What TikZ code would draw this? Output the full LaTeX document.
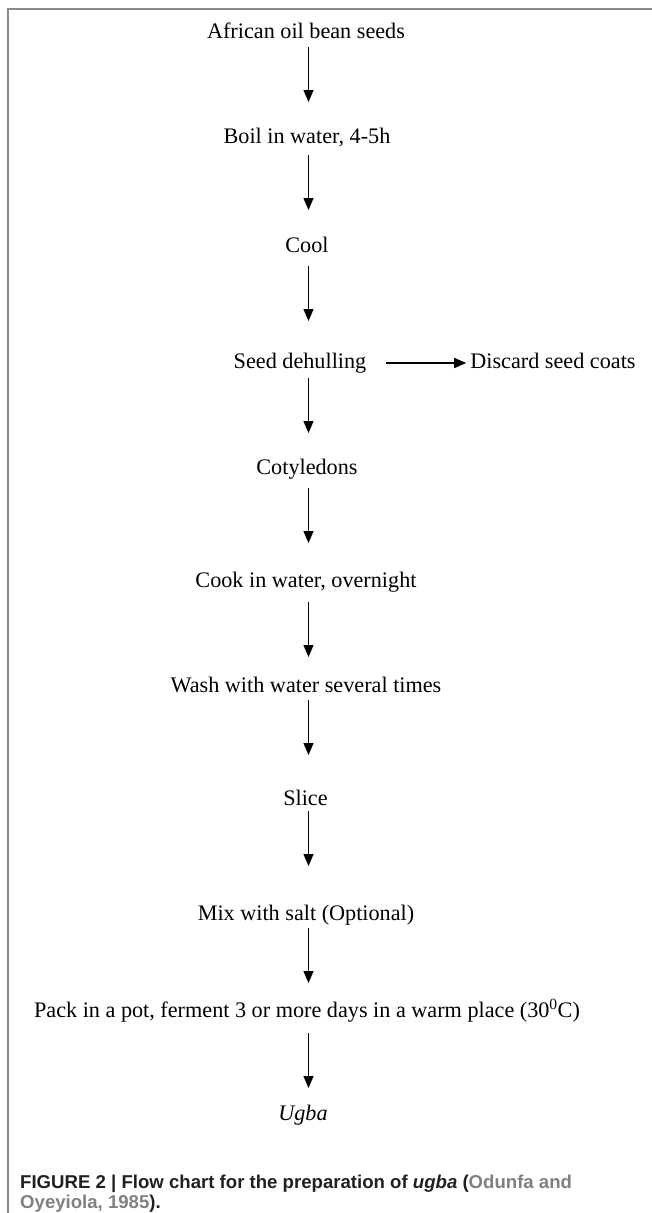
\documentclass[tikz,border=0pt]{standalone}
\usepackage{fontspec}
\setmainfont{Liberation Serif}
\newfontfamily\capfont{Liberation Sans}
\usetikzlibrary{arrows.meta,calc}
\definecolor{framegray}{RGB}{138,138,138}
\definecolor{citegray}{RGB}{128,128,128}
\definecolor{capblack}{RGB}{35,31,32}
\begin{document}
\begin{tikzpicture}[x=1pt,y=1pt,
  lbl/.style={anchor=base, inner sep=0pt, font=\fontsize{22.2}{26}\selectfont},
  captext/.style={anchor=base west, inner sep=0pt, text=capblack, font=\capfont\bfseries\fontsize{18.6}{20}\selectfont},
  arr/.style={-{Triangle[width=10pt,length=12pt]}, line width=1.3pt},
  framestyle/.style={draw=framegray, line width=2pt}]
\useasboundingbox (0,0) rectangle (652,-1213);
\draw[framestyle] (652,-9) -- (7.5,-9) -- (7.5,-1213);
\coordinate (col) at (308.5,0);
\node[lbl] (n1) at (306,-38) {African oil bean seeds};
\node[lbl] (n2) at (307,-143) {Boil in water, 4-5h};
\node[lbl] (n3) at (307,-252) {Cool};
\node[lbl] (n4) at (300,-368) {Seed dehulling};
\node[lbl] (n4b) at (553,-368) {Discard seed coats};
\node[lbl] (n5) at (307,-474) {Cotyledons};
\node[lbl] (n6) at (306,-587) {Cook in water, overnight};
\node[lbl] (n7) at (306,-692) {Wash with water several times};
\node[lbl] (n8) at (305.5,-805) {Slice};
\node[lbl] (n9) at (306,-920) {Mix with salt (Optional)};
\node[lbl] (n10) at (307,-1017) {Pack in a pot, ferment 3 or more days in a warm place (30\textsuperscript{0}C)};
\node[lbl] (n11) at (303,-1120) {\textit{Ugba}};
\foreach \a/\b/\s/\e in {n1/n2/9/41, n2/n3/12/42, n3/n4/14/47, n4/n5/10/41, n5/n6/14/44,
    n6/n7/15/35, n7/n8/8/50, n8/n9/6/54, n9/n10/8/34, n10/n11/16/32}
  \draw[arr] ($(col |- \a.base)+(0,-\s)$) -- ($(col |- \b.base)+(0,\e)$);
\draw[arr] ($(n4.base east)+(20,5)$) -- ($(n4b.base west)+(-4,5)$);
\node[captext] (c1) at (20,-1188) {FIGURE 2 | Flow chart for the preparation of \textit{ugba} (\textcolor{citegray}{Odunfa and}};
\node[captext] (c2) at (20,-1208) {\textcolor{citegray}{Oyeyiola, 1985}).};
\end{tikzpicture}
\end{document}
